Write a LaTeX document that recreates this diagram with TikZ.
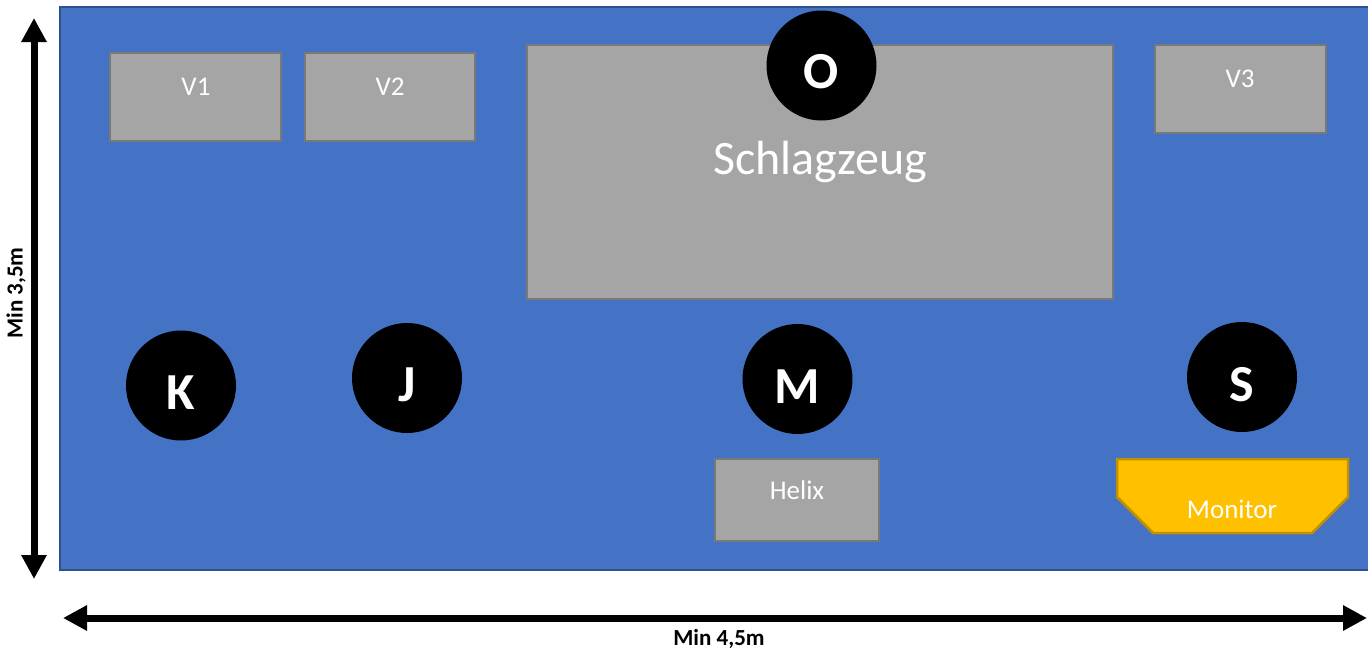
\documentclass[tikz,border=0pt]{standalone}
\usepackage{fontspec}
\setmainfont{Carlito}
\usetikzlibrary{arrows.meta}
\definecolor{stageblue}{HTML}{4472C4}
\definecolor{stageedge}{HTML}{2F528F}
\definecolor{boxgray}{HTML}{A5A5A5}
\definecolor{boxedge}{HTML}{787878}
\definecolor{monfill}{HTML}{FFC000}
\definecolor{monedge}{HTML}{BF9000}
\tikzset{
  graybox/.style={draw=boxedge, line width=2.5pt, fill=boxgray, inner sep=0pt},
  boxtext/.style={text=white, font=\fontsize{27}{30}\selectfont, inner sep=0pt},
  person/.style={circle, fill=black, minimum size=110pt, inner sep=0pt},
  persontext/.style={text=white, font=\fontsize{52}{56}\selectfont\bfseries, inner sep=0pt},
  dimarrow/.style={line width=7pt, {Triangle[length=24pt,width=24pt]}-{Triangle[length=24pt,width=24pt]}},
  dimtext/.style={font=\fontsize{23}{26}\selectfont\bfseries, inner sep=0pt}
}
\begin{document}
\begin{tikzpicture}[x=1pt,y=-1pt]
\useasboundingbox (0,0) rectangle (1368,653);
% stage
\node[draw=stageedge, line width=2pt, fill=stageblue, minimum width=1312pt, minimum height=563pt, inner sep=0pt, anchor=north west] (stage) at (59,6) {};
% boxes
\node[graybox, minimum width=171pt, minimum height=88pt] (v1) at (195.5,97) {};
\node[boxtext] (v1t) at (196,87) {V1};
\node[graybox, minimum width=170pt, minimum height=88pt] (v2) at (390,97) {};
\node[boxtext] (v2t) at (390,87) {V2};
\node[graybox, minimum width=586pt, minimum height=254pt] (drums) at (820,172) {};
\node[text=white, font=\fontsize{48}{52}\selectfont, inner sep=0pt] (drumst) at (820,162) {Schlagzeug};
\node[graybox, minimum width=171pt, minimum height=88pt] (v3) at (1240.5,89) {};
\node[boxtext] (v3t) at (1240,79) {V3};
\node[graybox, minimum width=164pt, minimum height=82pt] (helix) at (797,500) {};
\node[boxtext] (helixt) at (797,490) {Helix};
% monitor
\coordinate (m1) at (1117,459);
\coordinate (m2) at (1348,459);
\coordinate (m3) at (1348,497);
\coordinate (m4) at (1312,533);
\coordinate (m5) at (1153,533);
\coordinate (m6) at (1117,497);
\draw[draw=monedge, line width=2.5pt, fill=monfill, line join=miter] (m1) -- (m2) -- (m3) -- (m4) -- (m5) -- (m6) -- cycle;
\node[boxtext] (mont) at (1232,509) {Monitor};
% people
\node[person] (O) at (821.5,65.5) {};
\node[persontext] at (821.5,72) {O};
\node[person] (K) at (181,385.5) {};
\node[persontext] at (181,393) {K};
\node[person] (J) at (407,378) {};
\node[persontext] at (407,385) {J};
\node[person] (M) at (797.5,379) {};
\node[persontext] at (797.5,387) {M};
\node[person] (S) at (1242,377) {};
\node[persontext] at (1242,385) {S};
% dimensions
\coordinate (vt) at (34,18);
\coordinate (vb) at (34,579);
\draw[dimarrow] (vt) -- (vb);
\node[dimtext, rotate=90] (vlab) at (16,293) {Min 3,5m};
\coordinate (hl) at (63,618);
\coordinate (hr) at (1367,618);
\draw[dimarrow] (hl) -- (hr);
\node[dimtext] (hlab) at (719,639) {Min 4,5m};
\end{tikzpicture}
\end{document}
